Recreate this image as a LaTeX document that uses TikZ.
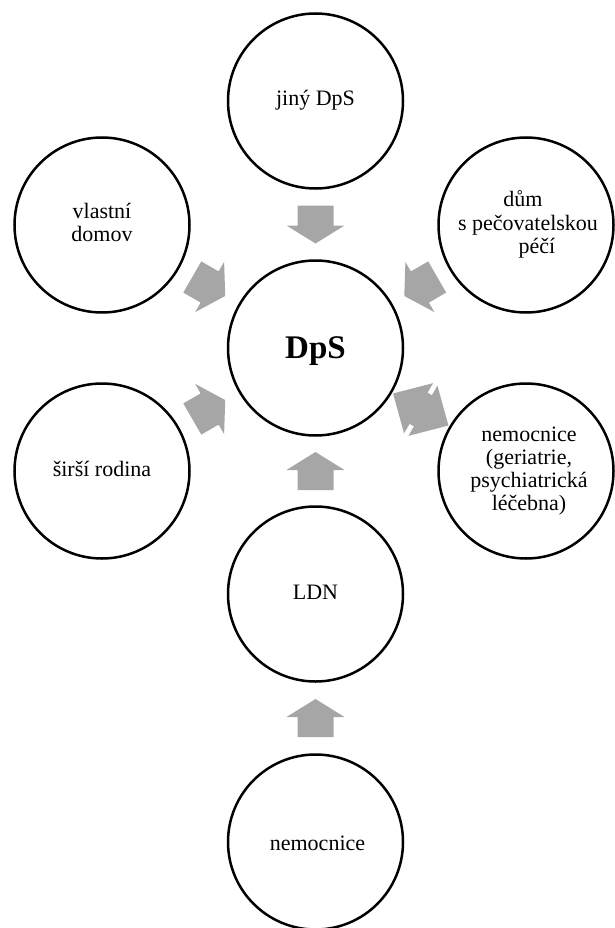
\documentclass[tikz,border=0pt]{standalone}
\usepackage{fontspec}
\setmainfont{Liberation Serif}
\usetikzlibrary{calc}
\definecolor{arrowgray}{RGB}{166,166,166}
\newcommand{\tl}[1]{\smash{#1}\rule[-5pt]{0pt}{20pt}}
\newcommand{\tb}[1]{\smash{#1}\rule[-5pt]{0pt}{30pt}}
\begin{document}
\begin{tikzpicture}[x=1pt,y=-1pt,
  circ/.style={circle,draw=black,line width=2.5pt,fill=white,minimum size=175pt,inner sep=0pt},
  lbl/.style={font=\fontsize{22}{23.3}\selectfont,align=center,inner sep=0pt},
  blbl/.style={font=\fontsize{33}{36}\selectfont\bfseries,align=center,inner sep=0pt},
  blockarrow/.pic={\fill[arrowgray] (-19,-18) -- (1,-18) -- (1,-29) -- (19,0) -- (1,29) -- (1,18) -- (-19,18) -- cycle;},
  dblarrow/.pic={\fill[arrowgray] (-32,0) -- (-2.5,-29) -- (-2.5,-18) -- (2.5,-18) -- (2.5,-29) -- (32,0) -- (2.5,29) -- (2.5,18) -- (-2.5,18) -- (-2.5,29) -- cycle;}]
\useasboundingbox (0,0) rectangle (615,928);
% circles
\node[circ] (dps)  at (315.5,348) {};
\node[circ] (jiny) at (315.5,101) {};
\node[circ] (vd)   at (102,225) {};
\node[circ] (sr)   at (102,471) {};
\node[circ] (dum)  at (526,225) {};
\node[circ] (nemg) at (526,471) {};
\node[circ] (ldn)  at (315.5,594) {};
\node[circ] (nem)  at (315.5,842) {};
% labels
\node[blbl] (dps-t)  at (dps)  {\tb{DpS}};
\node[lbl]  (jiny-t) at (jiny) {\tl{jiný DpS}};
\node[lbl]  (vd-t)   at (vd)   {\tl{vlastní}\\\tl{domov}};
\node[lbl]  (sr-t)   at (sr)   {\tl{širší rodina}};
\node[lbl]  (dum-t)  at ($(dum)+(2,0)$) {\tl{dům\hspace*{10pt}}\\\tl{s pečovatelskou}\\\tl{\hspace*{18pt}péčí}};
\node[lbl]  (nemg-t) at ($(nemg)+(3,0)$) {\tl{nemocnice}\\\tl{(geriatrie,}\\\tl{psychiatrická}\\\tl{léčebna)}};
\node[lbl]  (ldn-t)  at (ldn)  {\tl{LDN}};
\node[lbl]  (nem-t)  at ($(nem)+(2,3)$) {\tl{nemocnice}};
% arrows
\pic[rotate=-90] at ($(jiny)!0.5!(dps)$) {blockarrow};
\pic[rotate=90]  at ($(ldn)!0.5!(dps)$) {blockarrow};
\pic[rotate=90]  at ($(nem)!0.5!(ldn)$) {blockarrow};
\pic[rotate=-30] at ($(vd)!0.5!(dps)$) {blockarrow};
\pic[rotate=30]  at ($(sr)!0.5!(dps)$) {blockarrow};
\pic[rotate=-150] at ($(dum)!0.5!(dps)$) {blockarrow};
\pic[rotate=-30] at ($(dps)!0.5!(nemg)$) {dblarrow};
\end{tikzpicture}
\end{document}
